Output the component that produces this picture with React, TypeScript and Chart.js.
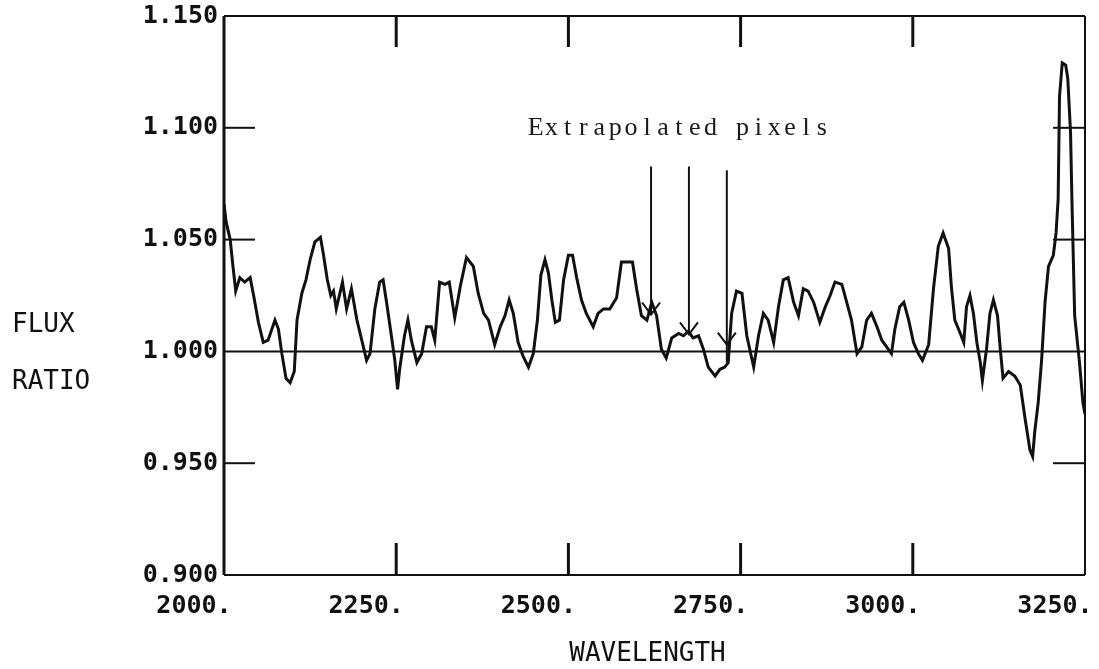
import { useEffect, useRef } from "react";
import { Chart, registerables } from "chart.js";

Chart.register(...registerables);

// ---- data ----
const wavelengths = [
  2000, 2003, 2009, 2013, 2017, 2023, 2030, 2038, 2043, 2050, 2057, 2064, 2074, 2079, 2084, 2090, 2096, 2102, 2106, 2113,
  2119, 2125, 2132, 2140, 2144, 2150, 2155, 2159, 2163, 2172, 2178, 2185, 2193, 2200, 2207, 2212, 2219, 2226, 2231, 2236,
  2243, 2248, 2252, 2255, 2262, 2267, 2272, 2280, 2287, 2294, 2301, 2306, 2313, 2321, 2327, 2335, 2343, 2352, 2362, 2369,
  2377, 2384, 2393, 2401, 2408, 2414, 2420, 2427, 2434, 2442, 2449, 2455, 2460, 2466, 2471, 2476, 2481, 2487, 2493, 2500,
  2506, 2512, 2519, 2526, 2536, 2543, 2551, 2560, 2570, 2577, 2585, 2593, 2599, 2606, 2614, 2621, 2628, 2635, 2642, 2650,
  2660, 2667, 2674, 2681, 2689, 2696, 2703, 2713, 2720, 2727, 2732, 2737, 2744, 2752, 2759, 2769, 2776, 2783, 2790, 2798,
  2805, 2812, 2819, 2827, 2834, 2841, 2848, 2856, 2865, 2873, 2880, 2887, 2897, 2904, 2911, 2919, 2926, 2933, 2940, 2948,
  2955, 2962, 2969, 2974, 2981, 2987, 2994, 3001, 3008, 3014, 3023, 3030, 3037, 3044, 3052, 3056, 3061, 3069, 3074, 3078,
  3083, 3088, 3093, 3098, 3101, 3107, 3112, 3117, 3123, 3127, 3131, 3139, 3148, 3156, 3163, 3170, 3174, 3177, 3182, 3187,
  3192, 3197, 3204, 3208, 3211, 3213, 3217, 3222, 3225, 3229, 3231, 3235, 3242, 3247, 3250,
];
const fluxRatio = [
  1.066, 1.058, 1.05, 1.038, 1.027, 1.033, 1.031, 1.033, 1.025, 1.013, 1.004, 1.005, 1.014, 1.01, 0.999, 0.988, 0.986, 0.991, 1.014, 1.026,
  1.032, 1.041, 1.049, 1.051, 1.044, 1.032, 1.025, 1.027, 1.019, 1.031, 1.019, 1.028, 1.014, 1.005, 0.996, 0.999, 1.019, 1.031, 1.032, 1.022,
  1.007, 0.996, 0.983, 0.992, 1.007, 1.014, 1.005, 0.995, 0.999, 1.011, 1.011, 1.005, 1.031, 1.03, 1.031, 1.015, 1.029, 1.042, 1.038, 1.026,
  1.017, 1.014, 1.003, 1.011, 1.016, 1.023, 1.017, 1.004, 0.998, 0.993, 0.999, 1.014, 1.034, 1.041, 1.035, 1.023, 1.013, 1.014, 1.032, 1.043,
  1.043, 1.033, 1.023, 1.017, 1.011, 1.017, 1.019, 1.019, 1.024, 1.04, 1.04, 1.04, 1.028, 1.016, 1.014, 1.022, 1.016, 1.001, 0.997, 1.006,
  1.008, 1.007, 1.009, 1.006, 1.007, 1.001, 0.993, 0.989, 0.992, 0.993, 0.995, 1.017, 1.027, 1.026, 1.007, 0.993, 1.007, 1.017, 1.014, 1.004,
  1.02, 1.032, 1.033, 1.022, 1.016, 1.028, 1.027, 1.022, 1.013, 1.02, 1.025, 1.031, 1.03, 1.022, 1.014, 0.999, 1.002, 1.014, 1.017, 1.011,
  1.005, 1.002, 0.999, 1.01, 1.02, 1.022, 1.014, 1.004, 0.999, 0.996, 1.003, 1.028, 1.047, 1.053, 1.046, 1.029, 1.014, 1.008, 1.004, 1.02,
  1.025, 1.017, 1.004, 0.995, 0.987, 1.001, 1.017, 1.023, 1.016, 1.001, 0.988, 0.991, 0.989, 0.985, 0.97, 0.956, 0.953, 0.964, 0.977, 0.996,
  1.022, 1.038, 1.043, 1.053, 1.068, 1.114, 1.129, 1.128, 1.122, 1.098, 1.068, 1.016, 0.995, 0.977, 0.972,
];

const xTickValues = [2000, 2250, 2500, 2750, 3000, 3250];
const yTickValues = [0.9, 0.95, 1.0, 1.05, 1.1, 1.15];
const innerXTickValues = [2250, 2500, 2750, 3000];
const innerYTickValues = [0.95, 1.05, 1.1];
const referenceLevel = 1.0;

const arrowWavelengths = [2620, 2675, 2730];
const arrowTopValues = [1.0827, 1.0827, 1.081];
const arrowTipValues = [1.0165, 1.0076, 1.003];
const arrowEndValues = [1.0165, 1.0076, 0.995];

const annotationText = "Extrapolated pixels";
const annotationWavelength = 2441;
const annotationValue = 1.097;

const yTitleLines = ["FLUX", "RATIO"];
const xTitle = "WAVELENGTH";

const MONO = "'DejaVu Sans Mono', monospace";
const INK = "#111";

const decorPlugin = {
  id: "decor",
  beforeDatasetsDraw(chart: any) {
    const { ctx, chartArea: a, scales } = chart;
    const x = scales.x;
    const y = scales.y;
    const seg = (x1: number, y1: number, x2: number, y2: number) => {
      ctx.beginPath();
      ctx.moveTo(x1, y1);
      ctx.lineTo(x2, y2);
      ctx.stroke();
    };
    ctx.save();
    ctx.strokeStyle = INK;
    ctx.lineCap = "butt";
    // reference line
    ctx.lineWidth = 2;
    const yr = y.getPixelForValue(referenceLevel);
    seg(a.left, yr, a.right, yr);
    // frame
    ctx.lineWidth = 2;
    seg(a.left, a.top, a.right, a.top);
    seg(a.right, a.top, a.right, a.bottom);
    seg(a.left, a.bottom, a.right, a.bottom);
    ctx.lineWidth = 3;
    seg(a.left, a.top, a.left, a.bottom);
    // inner ticks
    ctx.lineWidth = 3;
    innerXTickValues.forEach((v) => {
      const px = x.getPixelForValue(v);
      seg(px, a.top, px, a.top + 31);
      seg(px, a.bottom, px, a.bottom - 32);
    });
    ctx.lineWidth = 2;
    innerYTickValues.forEach((v) => {
      const py = y.getPixelForValue(v);
      seg(a.left, py, a.left + 31, py);
      seg(a.right, py, a.right - 32, py);
    });
    ctx.restore();
  },
  afterDatasetsDraw(chart: any) {
    const { ctx, scales } = chart;
    const x = scales.x;
    const y = scales.y;
    ctx.save();
    ctx.strokeStyle = INK;
    ctx.lineWidth = 2;
    arrowWavelengths.forEach((w, i) => {
      const px = x.getPixelForValue(w);
      const top = y.getPixelForValue(arrowTopValues[i]);
      const tip = y.getPixelForValue(arrowTipValues[i]);
      const end = y.getPixelForValue(arrowEndValues[i]);
      ctx.beginPath();
      ctx.moveTo(px, top);
      ctx.lineTo(px, end);
      ctx.stroke();
      ctx.beginPath();
      ctx.moveTo(px - 9, tip - 12);
      ctx.lineTo(px, tip);
      ctx.lineTo(px + 9, tip - 12);
      ctx.stroke();
    });
    // annotation text, typewriter spacing
    ctx.fillStyle = "#1a1a1a";
    ctx.font = "26px 'Liberation Serif', 'DejaVu Serif', serif";
    ctx.textAlign = "center";
    ctx.textBaseline = "alphabetic";
    const x0 = x.getPixelForValue(annotationWavelength);
    const by = y.getPixelForValue(annotationValue);
    const cell = 15.9;
    for (let i = 0; i < annotationText.length; i++) {
      ctx.fillText(annotationText[i], x0 + i * cell + cell / 2, by);
    }
    ctx.restore();
  },
  afterDraw(chart: any) {
    const { ctx, chartArea: a, scales } = chart;
    const y = scales.y;
    ctx.save();
    ctx.fillStyle = INK;
    ctx.font = `26px ${MONO}`;
    ctx.textAlign = "left";
    ctx.textBaseline = "alphabetic";
    const yc = y.getPixelForValue(referenceLevel);
    ctx.fillText(yTitleLines[0], 12, yc - 19);
    ctx.fillText(yTitleLines[1], 12, yc + 38);
    ctx.textAlign = "center";
    ctx.fillText(xTitle, (a.left + a.right) / 2 - 7, 661);
    ctx.restore();
  },
};

export default function App() {
  const ref = useRef<HTMLCanvasElement | null>(null);
  useEffect(() => {
    if (!ref.current) return;
    const chart = new Chart(ref.current, {
      type: "line",
      data: {
        datasets: [
          {
            data: wavelengths.map((w, i) => ({ x: w, y: fluxRatio[i] })),
            borderColor: INK,
            borderWidth: 3,
            pointRadius: 0,
            tension: 0,
            fill: false,
          },
        ],
      },
      options: {
        animation: false,
        responsive: false,
        devicePixelRatio: 1,
        layout: { padding: { top: 16, right: 14, left: 0, bottom: 0 } },
        plugins: { legend: { display: false }, tooltip: { enabled: false } },
        scales: {
          x: {
            type: "linear",
            min: 2000,
            max: 3250,
            grid: { display: false, drawTicks: false },
            border: { display: false },
            afterBuildTicks: (s: any) => {
              s.ticks = xTickValues.map((v) => ({ value: v }));
            },
            afterFit: (s: any) => {
              s.height = 669 - 575;
              s.paddingLeft = 0;
              s.paddingRight = 0;
            },
            ticks: {
              autoSkip: false,
              maxRotation: 0,
              minRotation: 0,
              padding: 16,
              labelOffset: -30,
              color: INK,
              font: { family: MONO, size: 25, weight: "bold" },
              callback: (v: any) => `${v}.`,
            },
          },
          y: {
            type: "linear",
            min: 0.9,
            max: 1.15,
            grid: { display: false, drawTicks: false },
            border: { display: false },
            afterBuildTicks: (s: any) => {
              s.ticks = yTickValues.map((v) => ({ value: v }));
            },
            afterFit: (s: any) => {
              s.width = 224;
              s.paddingTop = 0;
              s.paddingBottom = 0;
            },
            ticks: {
              autoSkip: false,
              padding: 6,
              color: INK,
              font: { family: MONO, size: 25, weight: "bold" },
              callback: (v: any) => Number(v).toFixed(3),
            },
          },
        },
      } as any,
      plugins: [decorPlugin],
    });
    return () => chart.destroy();
  }, []);
  return (
    <div style={{ position: "absolute", left: 0, top: 0, width: 1099, height: 669, background: "#fff" }}>
      <canvas ref={ref} width={1099} height={669} style={{ display: "block" }} />
    </div>
  );
}
